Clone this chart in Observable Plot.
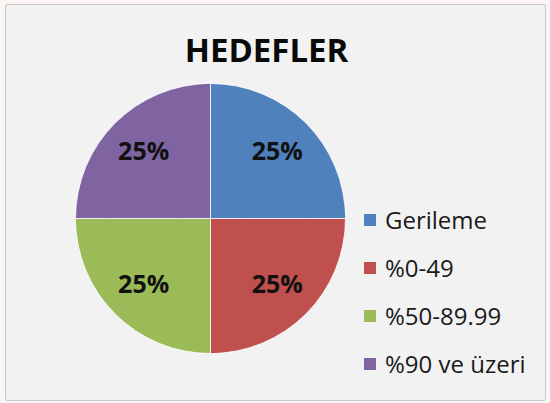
<!DOCTYPE html>
<html>
<head>
<meta charset="utf-8">
<script src="https://cdn.jsdelivr.net/npm/d3@7"></script>
<script src="https://cdn.jsdelivr.net/npm/@observablehq/plot@0.6"></script>
<style>
  html, body { margin: 0; padding: 0; background: #fbf6f4; }
  #wrap { position: relative; width: 550px; height: 403px; overflow: hidden; font-family: "Open Sans", sans-serif; }
  #box { position: absolute; left: 5px; top: 4px; width: 539px; height: 395px; background: #f2f2f2; border: 1px solid #c9c9c9; border-radius: 3px; box-shadow: 0 0 1px #ddd; }
  #title { position: absolute; left: 0; top: 33px; width: 533px; text-align: center; font: bold 33px/34px "Open Sans", sans-serif; color: #0a0a0a; }
  #pie { position: absolute; left: 75px; top: 83px; }
  #legend { position: absolute; left: 364px; top: 203px; }
  .lg-swatch { margin-bottom: 14px; }
  .lg-swatch svg { margin-right: 9px !important; }
</style>
</head>
<body>
<div id="wrap">
  <div id="box"></div>
  <div id="title"></div>
  <div id="pie"></div>
  <div id="legend"></div>
</div>
<script>
const title = "HEDEFLER";
const categories = ["Gerileme", "%0-49", "%50-89.99", "%90 ve üzeri"];
const values = [25, 25, 25, 25];
const colors = ["#4F81BD", "#C0504D", "#9BBB59", "#8064A2"];

document.getElementById("title").textContent = title;

const total = d3.sum(values);
let acc = 0;
const slices = categories.map((c, i) => {
  const t0 = acc / total * 360;
  acc += values[i];
  const t1 = acc / total * 360;
  // clockwise from 12 o'clock -> longitude on a pole-centred azimuthal view
  const l0 = 180 - t0, l1 = 180 - t1;
  const lo = Math.min(l0, l1), hi = Math.max(l0, l1);
  return {
    category: c,
    value: values[i],
    pct: Math.round(values[i] / total * 100) + "%",
    mid: (l0 + l1) / 2,
    geometry: {type: "Polygon", coordinates: [[[lo, 0], [lo, 90], [hi, 0], [lo, 0]]]}
  };
});

const hemisphere = d3.geoCircle().center([0, 90]).radius(90)();

const pie = Plot.plot({
  width: 270,
  height: 270,
  margin: 0,
  style: {background: "transparent", overflow: "visible"},
  projection: {type: "azimuthal-equidistant", rotate: [0, -90], domain: hemisphere, inset: 0},
  color: {domain: categories, range: colors},
  marks: [
    Plot.geo(slices, {geometry: "geometry", fill: "category", stroke: "#ffffff", strokeWidth: 1, strokeOpacity: 0.8}),
    Plot.text(slices, {x: "mid", y: () => 27, text: "pct", fill: "#111", fontSize: 25, fontWeight: "bold", fontFamily: "Open Sans"})
  ]
});
document.getElementById("pie").appendChild(pie);

const legend = Plot.legend({
  color: {type: "ordinal", domain: categories, range: colors},
  legend: "swatches",
  columns: 1,
  swatchSize: 12,
  className: "lg",
  style: {fontSize: "24px", fontFamily: "Open Sans", color: "#1a1a1a", background: "transparent"}
});
document.getElementById("legend").appendChild(legend);
</script>
</body>
</html>
